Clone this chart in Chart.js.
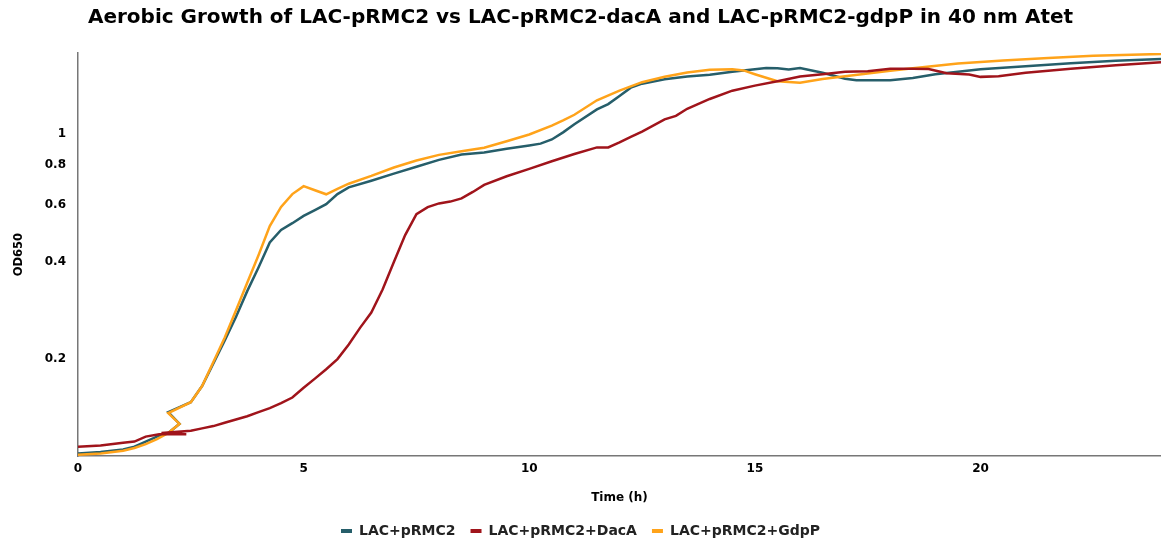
<!DOCTYPE html>
<html>
<head>
<meta charset="utf-8">
<script src="https://cdn.jsdelivr.net/npm/chart.js@4.4.1/dist/chart.umd.min.js"></script>
<style>
  html, body { margin: 0; padding: 0; background: #fff; }
  #wrap { width: 1161px; height: 543px; }
</style>
</head>
<body>
<div id="wrap"><canvas id="growth"></canvas></div>
<script>
// time (h) and OD650, one pair of arrays per strain
let timeLac = [0, 0.5, 1, 1.25, 1.5, 1.75, 2, 2.25, 2, 2.5, 2.75, 3, 3.25, 3.5, 3.75, 4, 4.25, 4.5, 4.75, 5, 5.25, 5.5, 5.75, 6, 6.5, 7, 7.5, 8, 8.5, 9, 9.5, 10, 10.25, 10.5, 10.75, 11, 11.5, 11.75, 12, 12.25, 12.5, 13, 13.5, 14, 14.5, 15, 15.25, 15.5, 15.75, 16, 16.5, 17, 17.25, 17.5, 18, 18.5, 19, 20, 21, 22, 23, 24];
let odLac = [0.102, 0.103, 0.105, 0.107, 0.111, 0.115, 0.118, 0.126, 0.137, 0.147, 0.165, 0.194, 0.228, 0.270, 0.325, 0.385, 0.460, 0.503, 0.528, 0.556, 0.580, 0.605, 0.650, 0.682, 0.715, 0.752, 0.790, 0.830, 0.862, 0.875, 0.898, 0.920, 0.932, 0.960, 1.010, 1.070, 1.190, 1.236, 1.310, 1.390, 1.430, 1.475, 1.505, 1.525, 1.558, 1.585, 1.598, 1.595, 1.582, 1.598, 1.545, 1.482, 1.465, 1.466, 1.465, 1.490, 1.530, 1.585, 1.619, 1.654, 1.683, 1.706];

let timeDacA = [0, 0.5, 1, 1.25, 1.5, 1.8, 2.4, 1.85, 2.5, 2.75, 3, 3.25, 3.5, 3.75, 4, 4.25, 4.5, 4.75, 5, 5.25, 5.5, 5.75, 6, 6.25, 6.5, 6.75, 7, 7.25, 7.5, 7.75, 8, 8.25, 8.5, 8.75, 9, 9.5, 10, 10.5, 11, 11.5, 11.75, 12, 12.25, 12.5, 13, 13.25, 13.5, 14, 14.5, 15, 15.5, 16, 16.5, 17, 17.5, 18, 18.5, 18.85, 19.25, 19.75, 20, 20.4, 21, 22, 23, 24];
let odDacA = [0.107, 0.108, 0.110, 0.111, 0.115, 0.117, 0.117, 0.118, 0.120, 0.122, 0.124, 0.127, 0.130, 0.133, 0.137, 0.141, 0.146, 0.152, 0.163, 0.174, 0.186, 0.200, 0.222, 0.250, 0.279, 0.329, 0.400, 0.485, 0.563, 0.592, 0.608, 0.616, 0.630, 0.660, 0.694, 0.738, 0.778, 0.822, 0.865, 0.907, 0.907, 0.940, 0.978, 1.015, 1.108, 1.136, 1.195, 1.282, 1.360, 1.410, 1.455, 1.505, 1.530, 1.558, 1.563, 1.590, 1.590, 1.588, 1.540, 1.527, 1.501, 1.508, 1.545, 1.591, 1.630, 1.665];

let timeGdpP = [0, 0.5, 1, 1.25, 1.5, 1.75, 2, 2.25, 2, 2.5, 2.75, 3, 3.25, 3.5, 3.75, 4, 4.25, 4.5, 4.75, 5, 5.25, 5.5, 5.75, 6, 6.5, 7, 7.5, 8, 8.5, 9, 9.5, 10, 10.5, 10.75, 11, 11.5, 12, 12.5, 13, 13.5, 14, 14.5, 14.75, 15, 15.5, 16, 16.5, 17, 17.5, 18, 18.5, 19.5, 20.5, 21.5, 22.5, 24];
let odGdpP = [0.101, 0.102, 0.104, 0.106, 0.109, 0.113, 0.118, 0.126, 0.136, 0.147, 0.165, 0.196, 0.233, 0.283, 0.345, 0.420, 0.517, 0.593, 0.650, 0.688, 0.668, 0.649, 0.675, 0.700, 0.740, 0.786, 0.826, 0.860, 0.882, 0.905, 0.948, 0.995, 1.060, 1.100, 1.145, 1.270, 1.360, 1.445, 1.502, 1.548, 1.580, 1.585, 1.572, 1.530, 1.455, 1.440, 1.478, 1.508, 1.538, 1.567, 1.597, 1.650, 1.686, 1.718, 1.744, 1.768];

let seriesNames = ['LAC+pRMC2', 'LAC+pRMC2+DacA', 'LAC+pRMC2+GdpP'];
let seriesColors = ['#265e6a', '#a0141b', '#ffa31a'];
let drawOrder = [2, 0, 1]; // red on top, then orange, then teal
let xTicks = [0, 5, 10, 15, 20];
let yTicks = [0.2, 0.4, 0.6, 0.8, 1];

function toPoints(times, values) {
  return times.map((t, k) => ({ x: t, y: values[k] }));
}

let allTimes = [timeLac, timeDacA, timeGdpP];
let allValues = [odLac, odDacA, odGdpP];

let datasets = seriesNames.map((name, i) => ({
  label: name,
  data: toPoints(allTimes[i], allValues[i]),
  borderColor: seriesColors[i],
  backgroundColor: seriesColors[i],
  borderWidth: 2.5,
  pointRadius: 0,
  tension: 0,
  showLine: true,
  order: drawOrder[i]
}));

let font = 'DejaVu Sans';

new Chart(document.getElementById('growth'), {
  type: 'scatter',
  data: { datasets: datasets },
  options: {
    responsive: true,
    maintainAspectRatio: false,
    animation: false,
    layout: { padding: { left: 0, right: 0, top: 0, bottom: -5 } },
    plugins: {
      title: {
        display: true,
        text: 'Aerobic Growth of LAC-pRMC2 vs LAC-pRMC2-dacA and LAC-pRMC2-gdpP in 40 nm Atet',
        color: '#000',
        font: { family: font, size: 20, weight: 'bold' },
        padding: { top: 6, bottom: 23 }
      },
      legend: {
        position: 'bottom',
        labels: {
          color: '#222',
          font: { family: font, size: 14, weight: 'bold' },
          boxWidth: 11,
          boxHeight: 4,
          padding: 15,
          generateLabels: function (chart) {
            return chart.data.datasets.map((ds, i) => ({
              text: ds.label,
              fillStyle: ds.borderColor,
              strokeStyle: ds.borderColor,
              lineWidth: 0,
              fontColor: '#222',
              datasetIndex: i
            }));
          }
        }
      },
      tooltip: { enabled: false }
    },
    scales: {
      x: {
        type: 'linear',
        min: 0,
        max: 24,
        afterBuildTicks: (scale) => { scale.ticks = xTicks.map(v => ({ value: v })); },
        grid: { display: false, drawTicks: false },
        border: { display: true, color: '#777', width: 1.5 },
        ticks: {
          color: '#000',
          padding: 5,
          font: { family: font, size: 12, weight: 'bold' }
        },
        title: {
          display: true,
          text: 'Time (h)',
          color: '#000',
          font: { family: font, size: 12, weight: 'bold' },
          padding: { top: 10, bottom: 4 }
        }
      },
      y: {
        type: 'logarithmic',
        min: 0.1,
        max: 1.78,
        afterBuildTicks: (scale) => { scale.ticks = yTicks.map(v => ({ value: v })); },
        afterFit: (scale) => { scale.width = 78; },
        grid: { display: false, drawTicks: false },
        border: { display: true, color: '#777', width: 1.5 },
        ticks: {
          color: '#000',
          padding: 12,
          font: { family: font, size: 12, weight: 'bold' },
          callback: (v) => String(v)
        },
        title: {
          display: true,
          text: 'OD650',
          color: '#000',
          font: { family: font, size: 11.5, weight: 'bold' },
          padding: { top: 12, bottom: 4 }
        }
      }
    }
  }
});
</script>
</body>
</html>
